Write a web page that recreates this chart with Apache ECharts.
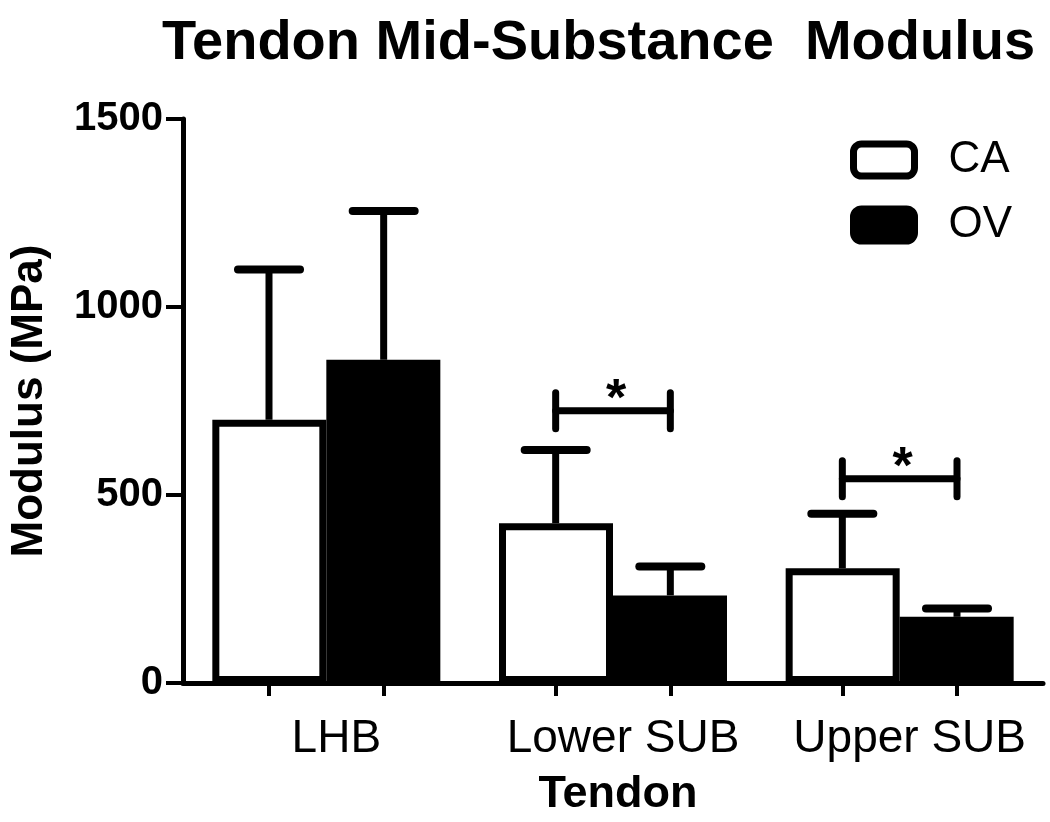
<!DOCTYPE html>
<html><head><meta charset="utf-8">
<script src="https://cdn.jsdelivr.net/npm/echarts@6/dist/echarts.min.js"></script>
<style>html,body{margin:0;padding:0;background:#fff}#c{width:1050px;height:822px}</style>
</head><body><div id="c"></div>
<script>
const categories = ['LHB', 'Lower SUB', 'Upper SUB'];
const seriesNames = ['CA', 'OV'];
const caMean = [700, 425, 305];
const caSD = [400, 195, 145];
const ovMean = [860, 233, 176];
const ovSD = [395, 77, 22];
const sigCategory = [1, 2];
const sigLevel = [724, 543];
const sigLabel = ['*', '*'];
const yMin = 0, yMax = 1500, yStep = 500;

const FONT = '"Liberation Sans", Arial, Helvetica, sans-serif';
const BAR_OFFSET = 0.2;   // bar centre offset from category centre, in category units
const BAR_WIDTH = 114;

const chart = echarts.init(document.getElementById('c'), null, {renderer: 'canvas'});

function errorRender(offset) {
  return function (params, api) {
    const x = api.value(0) + offset;
    const mean = api.value(1), sd = api.value(2);
    const p0 = api.coord([x, mean]);
    const p1 = api.coord([x, mean + sd]);
    const hw = 31;
    return {type: 'group', children: [
      {type: 'line', shape: {x1: p0[0], y1: p0[1], x2: p1[0], y2: p1[1]}, style: {stroke: '#000', lineWidth: 7}},
      {type: 'line', shape: {x1: p1[0] - hw, y1: p1[1], x2: p1[0] + hw, y2: p1[1]}, style: {stroke: '#000', lineWidth: 8, lineCap: 'round'}}
    ]};
  };
}

function sigRender(params, api) {
  const c = api.value(0), lvl = api.value(1);
  const a = api.coord([c - BAR_OFFSET, lvl]);
  const b = api.coord([c + BAR_OFFSET, lvl]);
  const h = 18;
  const st = {stroke: '#000', lineWidth: 7, lineCap: 'round'};
  return {type: 'group', children: [
    {type: 'line', shape: {x1: a[0], y1: a[1], x2: b[0], y2: b[1]}, style: st},
    {type: 'line', shape: {x1: a[0], y1: a[1] - h, x2: a[0], y2: a[1] + h}, style: st},
    {type: 'line', shape: {x1: b[0], y1: b[1] - h, x2: b[0], y2: b[1] + h}, style: st},
    {type: 'text', style: {x: (a[0] + b[0]) / 2 + 3, y: a[1] - 10, text: sigLabel[params.dataIndex],
      font: 'bold 52px ' + FONT, fill: '#000', textAlign: 'center', textVerticalAlign: 'middle'}}
  ]};
}

const option = {
  backgroundColor: '#fff',
  animation: false,
  title: {
    text: 'Tendon Mid-Substance  Modulus',
    left: 162, top: 16, padding: 0,
    textStyle: {fontFamily: FONT, fontWeight: 'bold', fontSize: 56, color: '#000'}
  },
  legend: {
    orient: 'vertical', left: 850, top: 138, padding: 0,
    itemWidth: 61, itemHeight: 32, itemGap: 21,
    textStyle: {fontFamily: FONT, fontSize: 44, color: '#000', lineHeight: 44, padding: [0, 0, 0, 29]},
    data: [
      {name: 'CA', icon: 'roundRect', itemStyle: {color: '#fff', borderColor: '#000', borderWidth: 7}},
      {name: 'OV', icon: 'roundRect', itemStyle: {color: '#000', borderColor: '#000', borderWidth: 7}}
    ]
  },
  grid: {left: 183, right: 7, top: 119, bottom: 124},
  xAxis: [
    {
      type: 'category', data: categories,
      name: 'Tendon', nameLocation: 'middle', nameGap: 89,
      nameTextStyle: {fontFamily: FONT, fontWeight: 'bold', fontSize: 45, color: '#000', padding: [0, 0, 0, 10]},
      axisLine: {onZero: false, lineStyle: {color: '#000', width: 5}},
      axisTick: {show: false},
      axisLabel: {interval: 0, fontFamily: FONT, fontSize: 46, color: '#000', margin: 33, padding: [0, 0, 0, 20]},
      splitLine: {show: false}
    },
    {
      type: 'value', min: -0.5, max: categories.length - 0.5, position: 'bottom',
      axisLine: {show: false, onZero: false},
      axisTick: {show: true, length: 13, lineStyle: {color: '#000', width: 4},
        customValues: categories.flatMap((c, i) => [i - BAR_OFFSET, i + BAR_OFFSET])},
      axisLabel: {show: false},
      splitLine: {show: false}
    }
  ],
  yAxis: {
    type: 'value', min: yMin, max: yMax, interval: yStep,
    name: 'Modulus (MPa)', nameLocation: 'middle', nameGap: 131,
    nameTextStyle: {fontFamily: FONT, fontWeight: 'bold', fontSize: 44, color: '#000'},
    axisLine: {show: true, onZero: false, lineStyle: {color: '#000', width: 5}},
    axisTick: {show: true, length: 17, lineStyle: {color: '#000', width: 4}},
    axisLabel: {fontFamily: FONT, fontWeight: 'bold', fontSize: 40, color: '#000', margin: 20,
      formatter: v => String(v)},
    splitLine: {show: false}
  },
  series: [
    {name: seriesNames[0], type: 'bar', data: caMean, barWidth: BAR_WIDTH, barGap: '0%', xAxisIndex: 0,
      itemStyle: {color: '#fff', borderColor: '#000', borderWidth: 7}, z: 2},
    {name: seriesNames[1], type: 'bar', data: ovMean, barWidth: BAR_WIDTH, barGap: '0%', xAxisIndex: 0,
      itemStyle: {color: '#000', borderColor: '#000', borderWidth: 7}, z: 2},
    {type: 'custom', xAxisIndex: 1, yAxisIndex: 0, z: 3, silent: true,
      data: caMean.map((m, i) => [i, m, caSD[i]]), renderItem: errorRender(-BAR_OFFSET)},
    {type: 'custom', xAxisIndex: 1, yAxisIndex: 0, z: 3, silent: true,
      data: ovMean.map((m, i) => [i, m, ovSD[i]]), renderItem: errorRender(BAR_OFFSET)},
    {type: 'custom', xAxisIndex: 1, yAxisIndex: 0, z: 3, silent: true,
      data: sigCategory.map((c, i) => [c, sigLevel[i]]), renderItem: sigRender}
  ]
};
chart.setOption(option);
</script></body></html>
